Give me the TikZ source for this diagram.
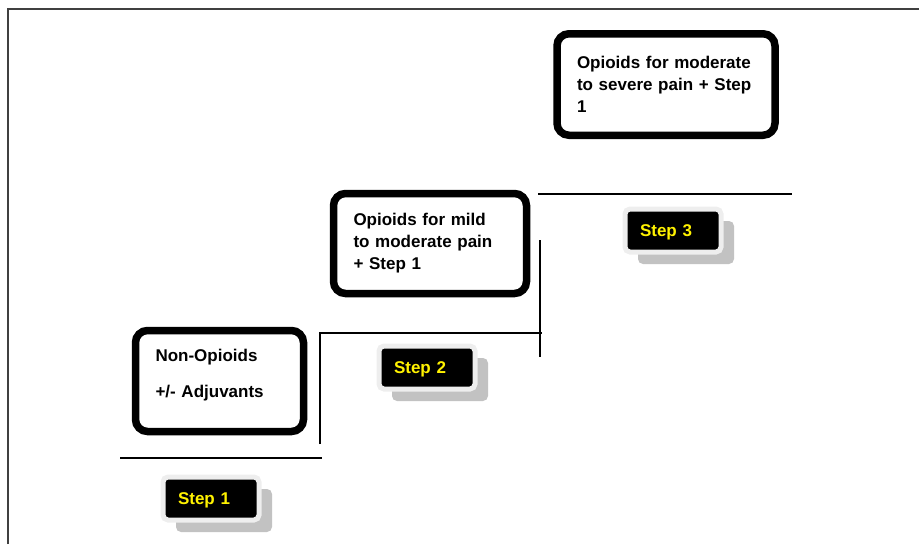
\documentclass[tikz,border=0pt]{standalone}
\usepackage{fontspec}
\setmainfont{Liberation Sans}
\usetikzlibrary{shadows}
\definecolor{tagrim}{HTML}{EEEEEE}
\definecolor{tagshade}{HTML}{C2C2C2}
\definecolor{framegray}{HTML}{404040}
\begin{document}
\begin{tikzpicture}[x=1pt, y=-1pt, thick,
  drug node/.style={rectangle, draw, rounded corners=12pt, line width=7.5pt, inner xsep=20pt, align=left, font=\bfseries\fontsize{17}{22}\selectfont},
  tag node/.style={rectangle, fill=black, draw=tagrim, line width=5pt, rounded corners=5pt, text=yellow, inner xsep=15pt, text width=66pt, minimum height=43pt, text height=12pt, text depth=0pt, align=left, font=\bfseries\fontsize{17}{22}\selectfont, drop shadow={shadow xshift=13pt, shadow yshift=-12pt, fill=tagshade, opacity=1}},
  stair/.style={line width=2.6pt}]
\useasboundingbox (0,0) rectangle (919,544);
\draw[framegray, line width=2pt] (8,544) -- (8,9) -- (919,9);
\begin{scope}
\node[drug node, text width=128pt, minimum height=101pt, text depth=51pt] (d1) at (219.5,381) {Non-Opioids\\[14pt]+/- Adjuvants};
\node[drug node, text width=153pt, minimum height=100pt] (d2) at (430,243.5) {Opioids for mild\\to moderate pain\\+ Step 1};
\node[drug node, text width=178pt, minimum height=101.5pt] (d3) at (666,84.5) {Opioids for moderate\\to severe pain + Step\\1};
\end{scope}
\begin{scope}
\node[tag node] (s1) at (211,498.5) {Step 1};
\node[tag node] (s2) at (427,367.5) {Step 2};
\node[tag node] (s3) at (673,230.5) {Step 3};
\end{scope}
\begin{scope}
\draw[stair] (120,458) -- (322,458);
\draw[stair] (320,444) -- (320,333) -- (542,333);
\draw[stair] (540,240) -- (540,357);
\draw[stair] (538,194) -- (792,194);
\end{scope}
\end{tikzpicture}
\end{document}
